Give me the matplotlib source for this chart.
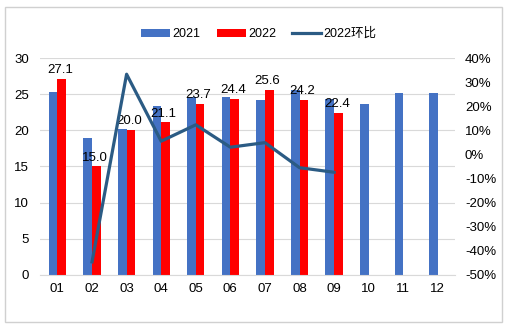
import matplotlib.pyplot as plt
import numpy as np
from matplotlib.patches import Rectangle

plt.rcParams['font.family'] = ['Liberation Sans', 'Noto Sans CJK SC', 'DejaVu Sans']

months = ["01", "02", "03", "04", "05", "06", "07", "08", "09", "10", "11", "12"]
v2021 = [25.3, 18.9, 20.2, 23.4, 24.6, 24.6, 24.2, 25.6, 24.4, 23.6, 25.1, 25.1]
v2022 = [27.1, 15.0, 20.0, 21.1, 23.7, 24.4, 25.6, 24.2, 22.4]
mom2022 = [None, -44.6, 33.3, 5.5, 12.3, 3.0, 4.9, -5.5, -7.4]

blue = "#4472C4"
red = "#FF0000"
line_c = "#2B5B84"

fig = plt.figure(figsize=(5.08, 3.3), dpi=100)
fig.patches.append(Rectangle((0.01, 0.024), 0.978, 0.955, transform=fig.transFigure,
                             fill=False, edgecolor="#D0D0D0", linewidth=1))
ax = fig.add_axes([0.079, 0.167, 0.817, 0.657])
ax2 = ax.twinx()

x = np.arange(len(months))
w = 0.25
b1 = ax.bar(x[:len(v2021)] - w / 2, v2021, w, color=blue, label="2021", zorder=2)
b2 = ax.bar(x[:len(v2022)] + w / 2, v2022, w, color=red, label="2022", zorder=2)
for xi, v in zip(x[:len(v2022)], v2022):
    ax.text(xi + w / 2 - 0.05, v + 0.4, f"{v:.1f}", ha="center", va="bottom", fontsize=9.5, zorder=5)

mx = [xi for xi, m in zip(x, mom2022) if m is not None]
my = [m for m in mom2022 if m is not None]
ln, = ax2.plot(mx, my, color=line_c, linewidth=2.3, label="2022环比", zorder=3)

ax.set_xlim(-0.5, 11.5)
ax.set_ylim(0, 30)
ax.set_yticks(range(0, 31, 5))
ax.set_xticks(x)
ax.set_xticklabels(months)
ax2.set_ylim(-50, 40)
ax2.set_yticks(range(-50, 41, 10))
ax2.set_yticklabels([f"{t}%" for t in range(-50, 41, 10)])

ax.grid(axis="y", color="#D9D9D9", linewidth=0.8, zorder=0)
ax.set_axisbelow(True)
for a in (ax, ax2):
    for s in a.spines.values():
        s.set_visible(False)
    a.tick_params(length=0, labelsize=9.5, colors="#000000")
ax.spines["bottom"].set_visible(True)
ax.spines["bottom"].set_color("#D9D9D9")
ax.tick_params(axis="x", pad=6)
ax.tick_params(axis="y", pad=8)
ax2.tick_params(axis="y", pad=7)

fig.legend(handles=[b1, b2, ln], loc="center", bbox_to_anchor=(0.51, 0.897), ncol=3,
           frameon=False, fontsize=9, handlelength=2.3, handleheight=0.6,
           columnspacing=1.3, handletextpad=0.2)

fig.savefig("out.png", dpi=100)
